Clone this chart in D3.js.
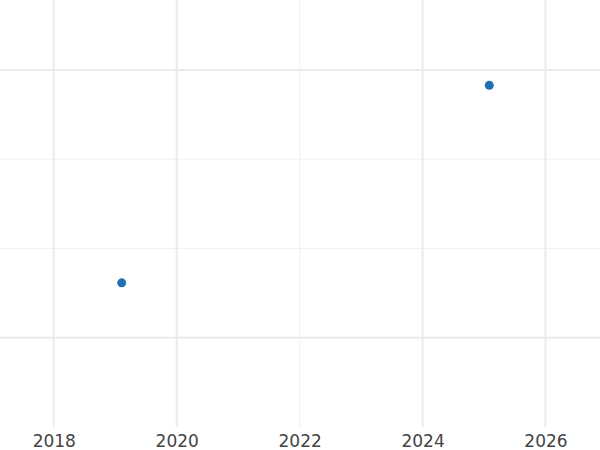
<!DOCTYPE html>
<meta charset="utf-8">
<script src="https://d3js.org/d3.v7.min.js"></script>
<style>
  body { margin: 0; background: #fff; }
  .tick-label { font-family: "DejaVu Sans", sans-serif; font-size: 17px; fill: #444; }
</style>
<body>
<div id="chart"></div>
<script>
  // data
  var years = [2019.105, 2025.086];
  var values = [1.615, 3.828];

  // grid
  var xMajor = [2018, 2020, 2024, 2026];
  var xMinor = [2022];
  var yMajor = [1, 4];
  var yMinor = [2, 3];
  var xTickLabels = ["2018", "2020", "2022", "2024", "2026"];
  var xTickValues = [2018, 2020, 2022, 2024, 2026];

  var width = 600,
      height = 450,
      plotBottom = 427;

  var svg = d3.select("#chart")
      .append("svg")
      .attr("width", width)
      .attr("height", height);

  var x = d3.scaleLinear().domain([2017.125, 2026.887]).range([0, width]);
  var y = d3.scaleLinear().domain([0, 4.784]).range([plotBottom, 0]);

  var grid = svg.append("g");

  grid.selectAll(".ymin").data(yMinor).enter().append("line")
      .attr("x1", 0).attr("x2", width)
      .attr("y1", function(d) { return y(d); })
      .attr("y2", function(d) { return y(d); })
      .attr("stroke", "#f0f0f0").attr("stroke-width", 1);

  grid.selectAll(".xmin").data(xMinor).enter().append("line")
      .attr("y1", 0).attr("y2", plotBottom)
      .attr("x1", function(d) { return x(d); })
      .attr("x2", function(d) { return x(d); })
      .attr("stroke", "#f0f0f0").attr("stroke-width", 1);

  grid.selectAll(".ymaj").data(yMajor).enter().append("line")
      .attr("x1", 0).attr("x2", width)
      .attr("y1", function(d) { return y(d); })
      .attr("y2", function(d) { return y(d); })
      .attr("stroke", "#ebebeb").attr("stroke-width", 2);

  grid.selectAll(".xmaj").data(xMajor).enter().append("line")
      .attr("y1", 0).attr("y2", plotBottom)
      .attr("x1", function(d) { return x(d); })
      .attr("x2", function(d) { return x(d); })
      .attr("stroke", "#ebebeb").attr("stroke-width", 2);

  // x axis labels
  var xAxis = d3.axisBottom(x)
      .tickValues(xTickValues)
      .tickFormat(function(d, i) { return xTickLabels[i]; })
      .tickSize(0)
      .tickPadding(0);

  var ax = svg.append("g")
      .attr("transform", "translate(0," + plotBottom + ")")
      .call(xAxis);
  ax.select(".domain").remove();
  ax.selectAll("text")
      .attr("class", "tick-label")
      .attr("y", 19.5)
      .attr("dy", null)
      .attr("fill", null);

  // points
  svg.append("g").selectAll("circle")
      .data(years)
      .enter().append("circle")
      .attr("cx", function(d) { return x(d); })
      .attr("cy", function(d, i) { return y(values[i]); })
      .attr("r", 4.5)
      .attr("fill", "#1f6fb2");
</script>
</body>
